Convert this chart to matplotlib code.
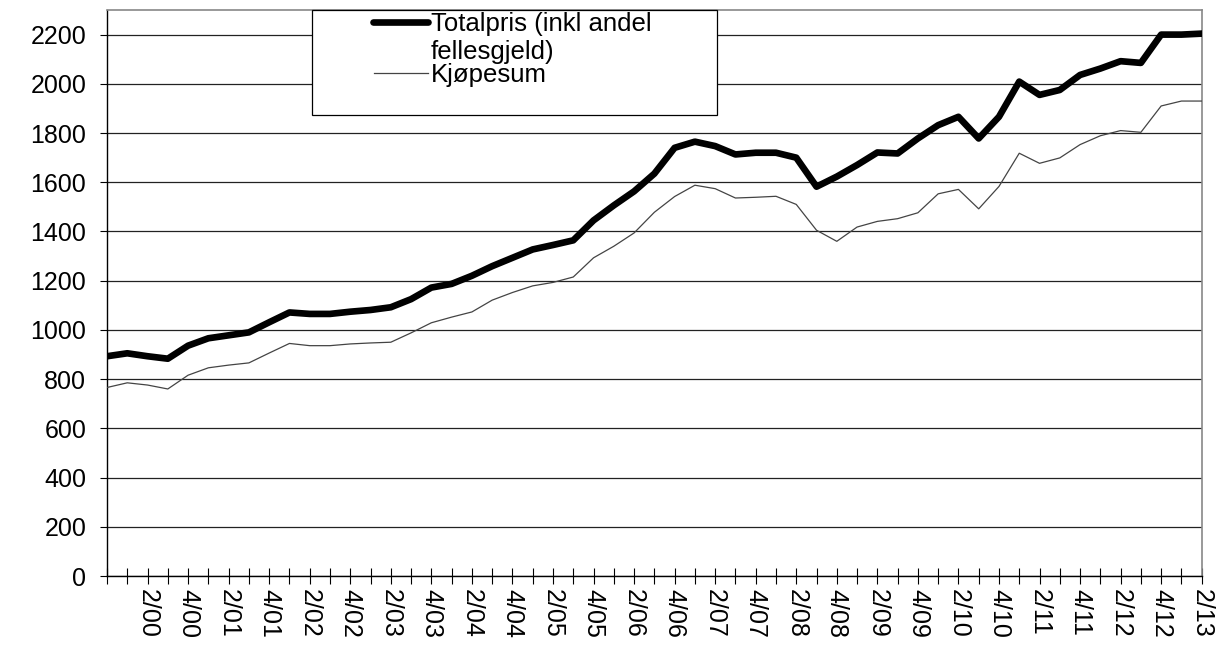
import numpy as np
import matplotlib
matplotlib.use("Agg")
import matplotlib.pyplot as plt
from matplotlib.lines import Line2D
from matplotlib.patches import Rectangle

plt.rcParams['font.family'] = ['Liberation Sans', 'DejaVu Sans']

# quarters 4/99 .. 2/13
quarters = ['4/99'] + ['%d/%02d' % (q, y % 100) for y in range(2000, 2014) for q in (1, 2, 3, 4)][:54]

totalpris = [893, 905, 893, 883, 936, 966, 978, 990, 1031, 1071,
             1065, 1065, 1074, 1081, 1092, 1125, 1172, 1187, 1220, 1259,
             1293, 1327, 1345, 1364, 1445, 1506, 1563, 1635, 1740, 1765,
             1747, 1713, 1720, 1720, 1700, 1582, 1623, 1670, 1721, 1717,
             1778, 1832, 1866, 1778, 1866, 2009, 1955, 1975, 2036, 2062,
             2092, 2085, 2200, 2200, 2204]

kjopesum = [766, 785, 776, 760, 816, 846, 857, 866, 906, 945,
            936, 936, 943, 947, 950, 988, 1029, 1052, 1073, 1121,
            1152, 1179, 1193, 1215, 1293, 1340, 1394, 1478, 1542, 1588,
            1574, 1536, 1539, 1543, 1510, 1405, 1360, 1418, 1441, 1452,
            1476, 1553, 1571, 1492, 1583, 1718, 1677, 1699, 1753, 1789,
            1810, 1803, 1910, 1930, 1930]

yticks = np.arange(0, 2201, 200)

W, H = 1221, 648
fig = plt.figure(figsize=(W / 100, H / 100), dpi=100)
ax = fig.add_axes([107 / W, 1 - 576 / H, (1201.7 - 107) / W, (576 - 10) / H])

x = np.arange(len(quarters))
ax.plot(x, kjopesum, color='#444444', lw=0.9, zorder=3)
ax.plot(x, totalpris, color='black', lw=4.8, solid_joinstyle='round', zorder=4)

ax.set_xlim(0, len(quarters) - 1)
ax.set_ylim(0, 2300)
ax.set_yticks(yticks)
ax.set_yticklabels([str(v) for v in yticks])
ax.yaxis.grid(True, color='#222222', lw=0.9)
ax.set_axisbelow(True)

ax.set_xticks(x)
ax.set_xticklabels([q if (i % 2 == 0 and i > 0) else '' for i, q in enumerate(quarters)],
                   rotation=270, fontsize=18)
ax.tick_params(axis='x', direction='inout', length=11, width=0.8, pad=4)
ax.tick_params(axis='y', direction='out', length=5, width=0.8, pad=10, labelsize=18)

for s in ('top', 'right'):
    ax.spines[s].set_color('#888888')
    ax.spines[s].set_linewidth(1.2)
for s in ('left', 'bottom'):
    ax.spines[s].set_color('black')
    ax.spines[s].set_linewidth(1.0)

# legend box drawn by hand
fig.add_artist(Rectangle((312 / W, 1 - 115 / H), 405 / W, 105 / H, transform=fig.transFigure,
                         facecolor='white', edgecolor='black', lw=0.9, zorder=5))
fig.add_artist(Line2D([373 / W, 428 / W], [1 - 22 / H, 1 - 22 / H], transform=fig.transFigure,
                      color='black', lw=4.8, solid_capstyle='round', zorder=6))
fig.add_artist(Line2D([374 / W, 428 / W], [1 - 73 / H, 1 - 73 / H], transform=fig.transFigure,
                      color='#444444', lw=0.9, zorder=6))
fig.text(431 / W, 1 - 31 / H, 'Totalpris (inkl andel', fontsize=18.5, va='baseline', zorder=7)
fig.text(431 / W, 1 - 59 / H, 'fellesgjeld)', fontsize=18.5, va='baseline', zorder=7)
fig.text(431 / W, 1 - 82 / H, 'Kjøpesum', fontsize=18.5, va='baseline', zorder=7)

fig.savefig('out.png', dpi=100)
